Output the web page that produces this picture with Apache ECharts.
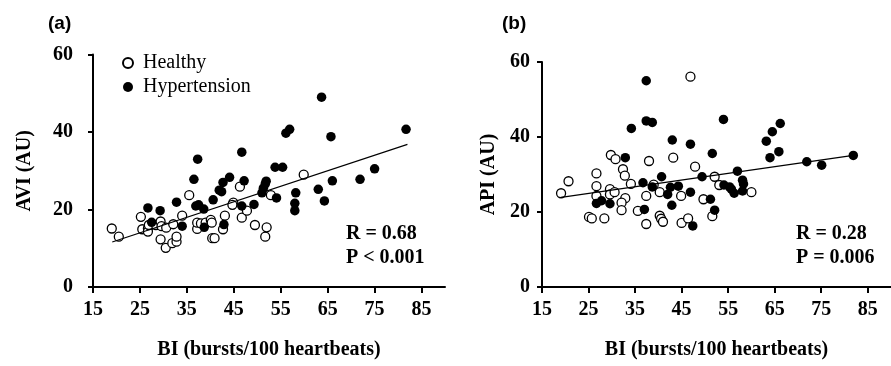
<!DOCTYPE html>
<html>
<head>
<meta charset="utf-8">
<script src="https://cdn.jsdelivr.net/npm/echarts@6/dist/echarts.min.js"></script>
<style>html,body{margin:0;padding:0;background:#fff}#c{width:891px;height:366px}</style>
</head>
<body>
<div id="c"></div>
<script>
var xTicks = [15, 25, 35, 45, 55, 65, 75, 85];
var yTicks = [0, 20, 40, 60];

var healthyA = [[19.0,15.1],[20.5,13.0],[25.2,18.1],[25.5,14.9],[26.7,15.1],[26.7,14.3],[26.9,16.0],[28.4,16.0],[29.4,16.9],[29.6,15.7],[30.6,15.3],[29.4,12.3],[30.5,10.1],[31.9,11.3],[32.8,11.7],[32.8,13.0],[32.1,16.2],[34.0,18.4],[35.5,23.7],[37.2,15.0],[37.2,16.6],[38.0,16.4],[39.0,16.6],[40.1,17.3],[40.3,16.6],[40.4,12.6],[40.9,12.6],[42.7,14.9],[43.1,18.4],[44.9,21.8],[44.7,21.2],[46.3,25.9],[46.7,17.9],[47.8,19.7],[49.5,16.0],[51.7,13.0],[52.0,15.4],[52.9,23.7],[59.9,29.0]];
var hyperA = [[37.3,33.0],[46.7,34.8],[36.5,27.8],[42.7,27.0],[44.1,28.3],[47.2,27.4],[41.9,25.0],[42.4,24.6],[40.6,22.5],[32.8,21.9],[26.7,20.4],[29.3,19.7],[36.9,20.9],[37.5,21.2],[38.6,20.1],[46.7,20.9],[49.3,21.3],[27.5,16.7],[34.0,15.7],[38.7,15.4],[42.9,16.1],[51.0,24.3],[51.3,25.5],[51.7,26.6],[51.9,27.3],[53.8,30.9],[55.4,30.9],[54.1,23.0],[58.2,24.3],[58.0,21.6],[58.0,19.7],[63.0,25.2],[64.3,22.2],[66.0,27.4],[71.9,27.8],[75.0,30.5],[63.7,49.0],[56.1,39.7],[56.9,40.7],[65.7,38.8],[81.7,40.7]];
var fitA = [[19.1,11.6],[82.0,36.8]];

var healthyB = [[46.9,56.1],[29.8,35.2],[30.8,34.1],[38.0,33.6],[43.2,34.5],[47.9,32.1],[19.1,25.0],[20.7,28.2],[26.7,30.3],[26.7,26.9],[26.7,24.3],[29.6,26.1],[29.6,24.7],[30.6,25.3],[32.4,31.4],[32.8,29.7],[34.1,27.5],[32.9,23.7],[32.1,22.5],[32.1,20.5],[35.6,20.3],[37.4,24.3],[39.0,27.3],[40.3,25.3],[40.3,19.0],[40.6,18.2],[41.0,17.4],[37.4,16.8],[25.1,18.7],[25.7,18.3],[28.4,18.3],[44.9,24.3],[45.0,17.1],[46.4,18.3],[49.7,23.4],[52.1,29.4],[53.1,27.2],[60.0,25.3],[51.6,18.9]];
var hyperB = [[37.4,55.0],[37.4,44.3],[38.7,43.9],[34.2,42.3],[43.0,39.2],[46.9,38.1],[32.9,34.5],[26.7,22.3],[27.8,23.0],[29.6,22.2],[36.7,27.8],[38.7,26.7],[40.7,29.4],[42.0,24.7],[42.6,26.6],[44.3,26.9],[42.9,21.8],[46.9,25.3],[49.4,29.4],[37.0,20.7],[47.4,16.3],[51.6,35.6],[64.0,34.5],[65.9,36.1],[57.0,30.9],[71.9,33.4],[75.1,32.5],[81.9,35.1],[54.1,27.2],[55.3,26.7],[55.7,26.1],[56.3,25.0],[58.1,28.5],[58.3,27.5],[58.1,25.6],[51.2,23.4],[52.1,20.5],[54.0,44.7],[66.2,43.6],[64.5,41.4],[63.2,38.9]];
var fitB = [[19.1,23.9],[81.9,35.1]];

var statsA = ['R = 0.68', 'P < 0.001'];
var statsB = ['R = 0.28', 'P = 0.006'];

var SERIF = '"Liberation Serif","Times New Roman",serif';
var lbl = {color:'#000', fontFamily:SERIF, fontWeight:'bold', fontSize:20};

function xAx(i){
  return {
    gridIndex:i, type:'value', min:15, max:90,
    axisLine:{show:true, onZero:false, lineStyle:{color:'#000', width:2}},
    axisTick:{show:true, customValues:xTicks, length:6, lineStyle:{color:'#000', width:2}},
    axisLabel:Object.assign({customValues:xTicks, margin:13}, lbl),
    splitLine:{show:false},
    name:'BI (bursts/100 heartbeats)', nameLocation:'middle', nameGap:53,
    nameTextStyle:lbl
  };
}
function yAx(i, name, margin, gap){
  return {
    gridIndex:i, type:'value', min:0, max:60, interval:20,
    axisLine:{show:true, lineStyle:{color:'#000', width:2}},
    axisTick:{show:true, length:5, lineStyle:{color:'#000', width:2}},
    axisLabel:Object.assign({margin:margin}, lbl),
    splitLine:{show:false},
    name:name, nameLocation:'middle', nameGap:gap,
    nameTextStyle:lbl
  };
}
var openStyle = {color:'#fff', borderColor:'#000', borderWidth:1.3, opacity:1};
var fillStyle = {color:'#000', borderColor:'#000', borderWidth:0, opacity:1};

var chart = echarts.init(document.getElementById('c'));
chart.setOption({
  animation:false,
  backgroundColor:'#fff',
  grid:[
    {left:93, top:54.5, width:352, height:232.5},
    {left:542, top:62, width:351, height:225}
  ],
  xAxis:[xAx(0), xAx(1)],
  yAxis:[yAx(0,'AVI (AU)',20,58), yAx(1,'API (AU)',12,43)],
  legend:{
    orient:'vertical', left:117, top:48, itemWidth:10, itemHeight:10, itemGap:4,
    data:['Healthy','Hypertension'],
    textStyle:{color:'#000', fontFamily:SERIF, fontSize:20, padding:[0,0,0,5]}
  },
  graphic:[
    {type:'text', left:48, top:14, style:{text:'(a)', font:'bold 19px "Liberation Sans", Arial, sans-serif', fill:'#000'}},
    {type:'text', left:502, top:14, style:{text:'(b)', font:'bold 19px "Liberation Sans", Arial, sans-serif', fill:'#000'}},
    {type:'text', left:346, top:224, style:{text:statsA[0], font:'bold 20px ' + SERIF, fill:'#000'}},
    {type:'text', left:346, top:248, style:{text:statsA[1], font:'bold 20px ' + SERIF, fill:'#000'}},
    {type:'text', left:796, top:224, style:{text:statsB[0], font:'bold 20px ' + SERIF, fill:'#000'}},
    {type:'text', left:796, top:248, style:{text:statsB[1], font:'bold 20px ' + SERIF, fill:'#000'}}
  ],
  series:[
    {name:'Healthy', type:'scatter', xAxisIndex:0, yAxisIndex:0, data:healthyA, symbol:'circle', symbolSize:9, itemStyle:openStyle, z:3},
    {name:'Hypertension', type:'scatter', xAxisIndex:0, yAxisIndex:0, data:hyperA, symbol:'circle', symbolSize:9.5, itemStyle:fillStyle, z:4},
    {name:'fitA', type:'line', xAxisIndex:0, yAxisIndex:0, data:fitA, showSymbol:false, symbol:'none', lineStyle:{color:'#000', width:1.2}, z:5},
    {name:'Healthy', type:'scatter', xAxisIndex:1, yAxisIndex:1, data:healthyB, symbol:'circle', symbolSize:9, itemStyle:openStyle, z:3},
    {name:'Hypertension', type:'scatter', xAxisIndex:1, yAxisIndex:1, data:hyperB, symbol:'circle', symbolSize:9.5, itemStyle:fillStyle, z:4},
    {name:'fitB', type:'line', xAxisIndex:1, yAxisIndex:1, data:fitB, showSymbol:false, symbol:'none', lineStyle:{color:'#000', width:1.2}, z:5}
  ]
});
</script>
</body>
</html>
